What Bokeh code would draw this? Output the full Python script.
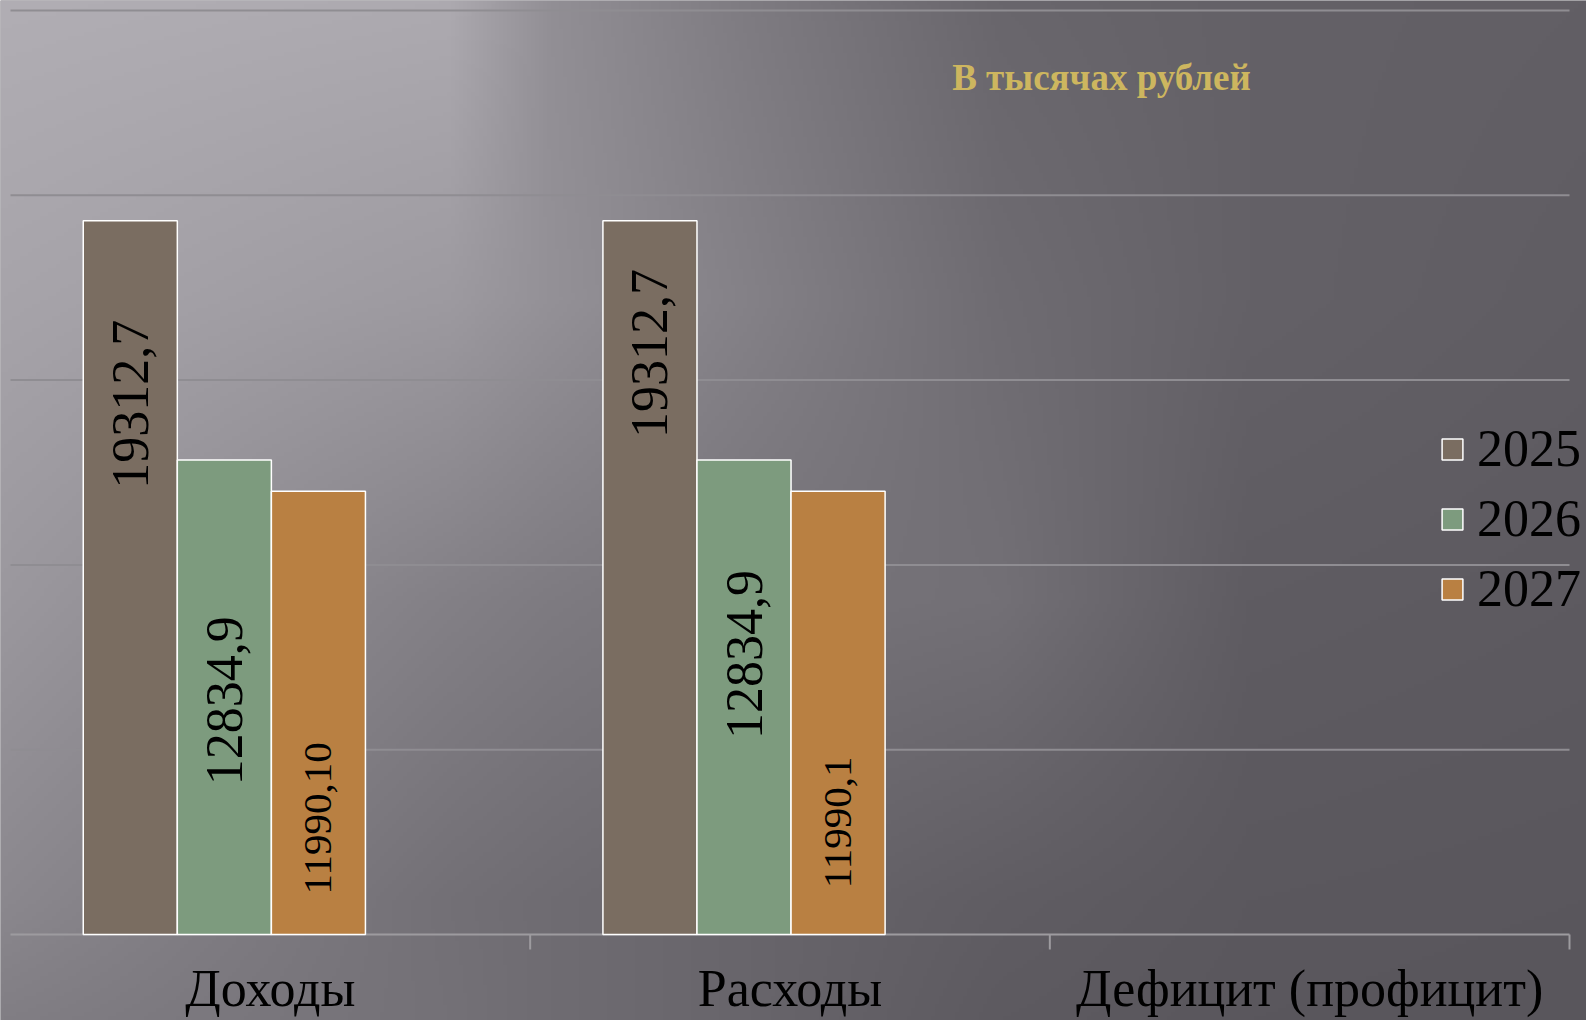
import math
import numpy as np
from bokeh.plotting import figure
from bokeh.models import (Range1d, Legend, LegendItem, Label, ColumnDataSource)
from bokeh.core.properties import value
from bokeh.embed import file_html
from bokeh.resources import INLINE

# ---------------- data ----------------
categories = ["Доходы", "Расходы", "Дефицит (профицит)"]
years = ["2025", "2026", "2027"]
v2025 = [19312.7, 19312.7, float("nan")]
v2026 = [12834.9, 12834.9, float("nan")]
v2027 = [11990.1, 11990.1, float("nan")]
lbl2025 = ["19312,7", "19312,7", ""]
lbl2026 = ["12834,9", "12834,9", ""]
lbl2027 = ["11990,10", "11990,1", ""]
# where the rotated value label sits inside each bar (share of bar height)
pos2025 = [0.743, 0.814, 0.0]
pos2026 = [0.493, 0.590, 0.0]
pos2027 = [0.262, 0.253, 0.0]
y_ticks = [5000, 10000, 15000, 20000, 25000]
title_text = "В тысячах рублей"

series_vals = [v2025, v2026, v2027]
series_lbls = [lbl2025, lbl2026, lbl2027]
series_pos = [pos2025, pos2026, pos2027]
colors = ["#7a6d61", "#7d9b7e", "#b98042"]
label_sizes = ["52px", "52px", "41px"]

BAR_W = 0.181
GROUP_SHIFT = -0.0885
offsets = [GROUP_SHIFT - BAR_W, GROUP_SHIFT, GROUP_SHIFT + BAR_W]

# ---------------- layout (pixels) ----------------
W, H = 1586, 1020
PX_LEFT, PX_RIGHT = 10, 1569      # where the category span starts / ends
PX_TOP_VAL, PX_ZERO = 10, 934     # pixel rows of 25000 and 0
n = len(categories)
ppx = (PX_RIGHT - PX_LEFT) / n
ppy = (PX_ZERO - PX_TOP_VAL) / 25000
x0, x1 = -PX_LEFT / ppx, n + (W - PX_RIGHT) / ppx
y0, y1 = -(H - PX_ZERO) / ppy, 25000 + PX_TOP_VAL / ppy

p = figure(width=W, height=H, output_backend="svg", toolbar_location=None,
           x_range=Range1d(x0, x1), y_range=Range1d(y0, y1),
           x_axis_location=None, y_axis_location=None,
           min_border_left=0, min_border_right=0, min_border_top=0,
           min_border_bottom=0)
p.background_fill_color = "#77747a"
p.border_fill_color = "#77747a"
p.outline_line_color = None
p.xgrid.visible = False
p.ygrid.visible = False

# ---------------- background shading (style) ----------------
BG_X = [0, 450, 550, 750, 1000, 1250, 1586]
BG_Y = [0, 300, 600, 900, 1020]
BG_V = [[176, 172, 145, 125, 104, 99, 97],
        [166, 156, 147, 131, 110, 99, 95],
        [154, 130, 125, 118, 114, 94, 92],
        [138, 114, 110, 103, 95, 90, 89],
        [128, 115, 110, 103, 92, 89, 88]]
RES = 4
gx = np.arange(0, W, RES) + RES / 2
gy = np.arange(0, H, RES) + RES / 2
rows_interp = np.array([np.interp(gx, BG_X, r) for r in BG_V])
vals = np.array([np.interp(gy, BG_Y, rows_interp[:, j]) for j in range(len(gx))]).T
vals = vals[::-1]  # image row 0 is the bottom
img = np.empty(vals.shape, dtype=np.uint32)
view = img.view(dtype=np.uint8).reshape(vals.shape + (4,))
view[..., 0] = np.clip(vals + 1, 0, 255)
view[..., 1] = np.clip(vals - 2, 0, 255)
view[..., 2] = np.clip(vals + 4, 0, 255)
view[..., 3] = 255
p.image_rgba(image=[img], x=x0, y=y0, dw=x1 - x0, dh=y1 - y0)

# horizontal grid lines over the category span
p.segment(x0=[0] * len(y_ticks), x1=[n] * len(y_ticks), y0=y_ticks, y1=y_ticks,
          line_color="#8f8d92", line_width=2)

# category axis: line at 0, ticks at category boundaries, labels at centres
AX_COL = "#9d9b9f"
p.segment(x0=[0], x1=[n], y0=[0], y1=[0], line_color=AX_COL, line_width=2)
p.ray(x=[i + 1 for i in range(n)], y=[0] * n, length=15, length_units="screen",
      angle=-math.pi / 2, line_color=AX_COL, line_width=2)
p.text(x=[i + 0.5 for i in range(n)], y=[0] * n, text=categories,
       y_offset=54, text_align="center", text_baseline="middle",
       text_font=value("Liberation Serif"), text_font_size="52px",
       text_color="#000000")

items = []
for k in range(3):
    xs = [i + 0.5 + offsets[k] for i in range(n)]
    src = ColumnDataSource(dict(
        x=xs, top=series_vals[k], text=series_lbls[k],
        ty=[(v if not math.isnan(v) else 0) * f for v, f in zip(series_vals[k], series_pos[k])],
    ))
    r = p.vbar(x="x", top="top", width=BAR_W, bottom=0, source=src,
               fill_color=colors[k], line_color="white", line_width=1.5)
    p.text(x="x", y="ty", text="text", source=src, angle=math.pi / 2,
           text_align="center", text_baseline="middle",
           text_font=value("Liberation Serif"), text_font_size=label_sizes[k],
           text_color="#000000")
    items.append(LegendItem(label=years[k], renderers=[r]))

legend = Legend(items=items, location=(1439, H - 618), orientation="vertical",
                glyph_width=26, glyph_height=26, label_height=26, label_width=60,
                spacing=11, padding=0, margin=0, label_standoff=12,
                border_line_color=None, background_fill_alpha=0,
                label_text_font="Liberation Serif", label_text_font_size="52px",
                label_text_color="#000000")
p.add_layout(legend, "center")

title = Label(x=1101, y=H - 77, x_units="screen", y_units="screen", text=title_text,
              text_font="Liberation Serif", text_font_style="bold",
              text_font_size="37px", text_color="#cdb65f",
              text_align="center", text_baseline="middle")
p.add_layout(title)

open("out.html", "w").write(file_html(p, INLINE))
